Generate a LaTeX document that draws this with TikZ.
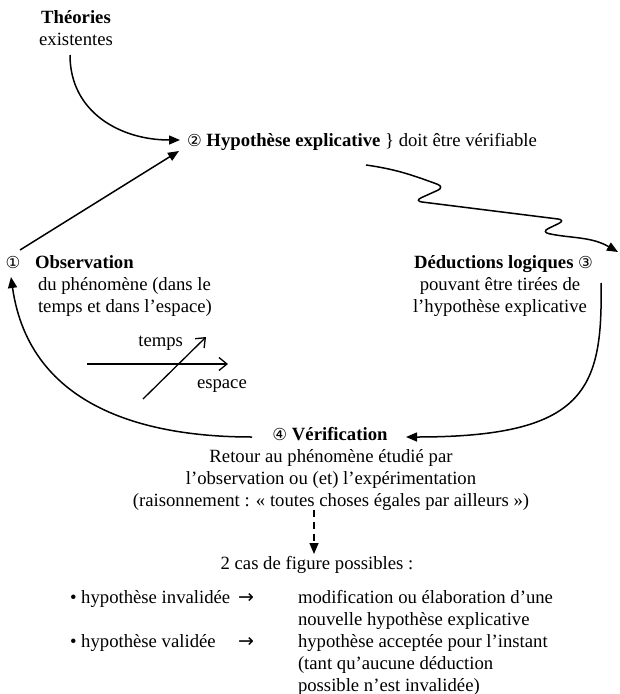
\documentclass[tikz,border=0pt]{standalone}
\usepackage{fontspec}
\setmainfont{Liberation Serif}
\newfontfamily\symfont{DejaVu Sans}
\usetikzlibrary{arrows.meta,calc}
\newcommand\cnum[1]{{\symfont\fontsize{16.5}{16.5}\selectfont #1}}
\newcommand\rarr{{\symfont\fontsize{19}{19}\selectfont →}}
\begin{document}
\begin{tikzpicture}[x=1pt,y=-1pt,
  font=\fontsize{18.7}{22}\selectfont,
  every node/.style={inner sep=0pt, outer sep=0pt},
  arr/.style={line width=1.5pt, -{Triangle[length=11pt,width=9pt]}},
  barb/.style={line width=1.3pt, -{Straight Barb[length=8pt,width=13pt]}},
  txt/.style={anchor=base west},
  ctxt/.style={anchor=base}]
\useasboundingbox (0,0) rectangle (619,694);

% Theories
\node[ctxt] (theo1) at (76,23) {\textbf{Théories}};
\node[ctxt] (theo2) at (76,45) {existentes};

% Hypothese
\node[txt] (hyp) at (187,146) {\cnum{②} \textbf{Hypothèse explicative} \} doit être vérifiable};

% Observation
\node[anchor=base] (c1) at (13,268) {\cnum{①}};
\node[txt] (obs) at (35,268) {\textbf{Observation}};
\node[txt] (obs2) at (38,290) {du phénomène (dans le};
\node[txt] (obs3) at (38,312) {temps et dans l’espace)};

% Deductions
\node[anchor=base east] (ded) at (593,268) {\textbf{Déductions logiques} \cnum{③}};
\node[ctxt] (ded2) at (500,290) {pouvant être tirées de};
\node[ctxt] (ded3) at (500,312) {l’hypothèse explicative};

% time / space axes
\coordinate (h0) at (87,364);
\coordinate (h1) at (228,364);
\coordinate (d0) at (143,399);
\coordinate (d1) at (206,337);
\draw[barb] (h0) -- (h1);
\draw[barb] (d0) -- (d1);
\node[anchor=base east] (temps) at (183,346) {temps};
\node[txt] (espace) at (197,388) {espace};

% Verification
\node[ctxt] (ver) at (330,440) {\cnum{④} \textbf{Vérification}};
\node[ctxt] (ver2) at (331,462) {Retour au phénomène étudié par};
\node[ctxt] (ver3) at (331,484) {l’observation ou (et) l’expérimentation};
\node[ctxt] (ver4) at (331,506) {(raisonnement : « toutes choses égales par ailleurs »)};

% two cases
\node[ctxt] (cas) at (317,569) {2 cas de figure possibles :};
\node[txt] (b1) at (70,603) {• hypothèse invalidée};
\node[txt] (a1) at (238,603) {\rarr};
\node[txt] (r1) at (298,603) {modification ou élaboration d’une};
\node[txt] (r1b) at (298,625) {nouvelle hypothèse explicative};
\node[txt] (b2) at (70,647) {• hypothèse validée};
\node[txt] (a2) at (238,647) {\rarr};
\node[txt] (r2) at (298,647) {hypothèse acceptée pour l’instant};
\node[txt] (r2b) at (298,669) {(tant qu’aucune déduction};
\node[txt] (r2c) at (298,691) {possible n’est invalidée)};

% connectors
\coordinate (t0) at (70,55);
\coordinate (t1) at (180,140);
\draw[arr] (t0) .. controls (70,112) and (120,140) .. (t1);

\coordinate (o0) at (20,250);
\coordinate (o1) at (179,151);
\draw[arr] (o0) -- (o1);

\coordinate (w0) at (366,165);
\coordinate (w5) at (618,252);
\draw[arr, rounded corners=8pt] (w0) to[out=-8,in=160] (445,187) -- (414,201) -- (566,220) -- (541,232) to[out=-12,in=150] (w5);

\coordinate (r0) at (601,283);
\coordinate (r1) at (406,437);
\draw[arr] (r0) .. controls (603,390) and (585,437) .. (r1);

\coordinate (l0) at (252,437);
\coordinate (l1) at (11,277);
\draw[arr] (l0) .. controls (150,437) and (30,410) .. (l1);

\coordinate (s0) at (314,510);
\coordinate (s1) at (314,554);
\draw[arr, dashed, dash pattern=on 7pt off 5pt] (s0) -- (s1);
\end{tikzpicture}
\end{document}
